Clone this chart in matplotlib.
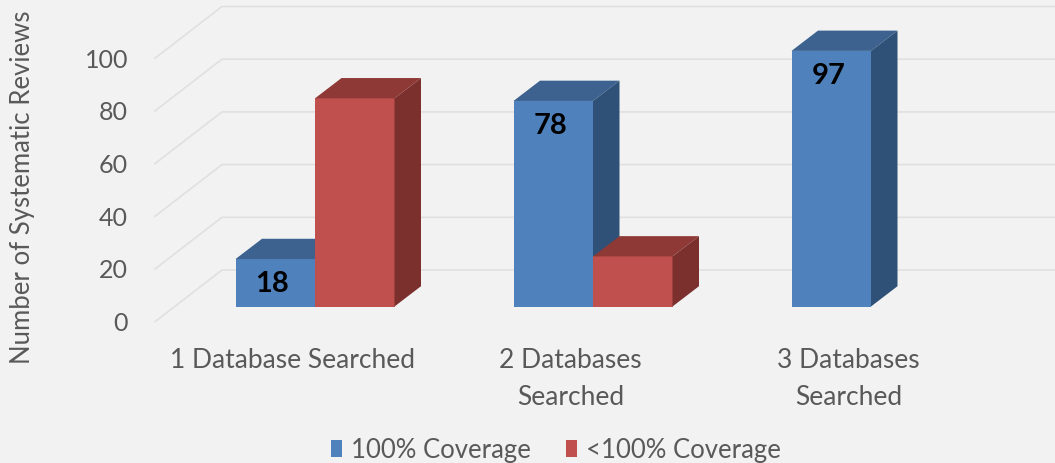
import matplotlib
matplotlib.use('Agg')
import matplotlib.pyplot as plt
from matplotlib.patches import Polygon

CATEGORIES = ['1 Database Searched', '2 Databases\nSearched', '3 Databases\nSearched']
FULL_COVERAGE = [18, 78, 97]
PARTIAL_COVERAGE = [79, 19, 0]
VALUE_TICKS = [0, 20, 40, 60, 80, 100]
SERIES_NAMES = ['100% Coverage', '<100% Coverage']

BG = '#f2f2f2'
GRID = '#e0e0e0'
TEXT = '#595959'
BLUE = ('#4f81bd', '#3e628f', '#2f5178')
RED = ('#c0504d', '#8f3937', '#7b302e')

# pixel scale of the picture
W, H = 1055, 464
PX_X = 278.0
PX_Y = 2.635
X0 = 315.0
Y0 = 307.5

BAR_W = 79.5 / PX_X
DEPTH_X = 26.5 / PX_X
DEPTH_Y = 20.3 / PX_Y
WALL_X = (155 - X0) / PX_X
WALL_BACK_X = (222 - X0) / PX_X
WALL_FRONT_Y = (Y0 - 322.7) / PX_Y
WALL_BACK_Y = (Y0 - 271) / PX_Y

plt.rcParams['font.family'] = ['Lato', 'DejaVu Sans']


def draw_series(ax, values, offset, colors, label):
    xs = [i + offset for i in range(len(values)) if values[i] > 0]
    vals = [v for v in values if v > 0]
    bars = ax.bar(xs, vals, BAR_W, align='edge', color=colors[0],
                  edgecolor='none', label=label, zorder=3)
    for x, v in zip(xs, vals):
        top = [(x, v), (x + BAR_W, v), (x + BAR_W + DEPTH_X, v + DEPTH_Y), (x + DEPTH_X, v + DEPTH_Y)]
        side = [(x + BAR_W, 0), (x + BAR_W + DEPTH_X, DEPTH_Y), (x + BAR_W + DEPTH_X, v + DEPTH_Y), (x + BAR_W, v)]
        ax.add_patch(Polygon(top, closed=True, facecolor=colors[1], edgecolor='none', zorder=3))
        ax.add_patch(Polygon(side, closed=True, facecolor=colors[2], edgecolor='none', zorder=3))
    return bars


def main():
    fig = plt.figure(figsize=(W / 100, H / 100), dpi=100, facecolor=BG)
    ax = fig.add_axes([0, 0, 1, 1])
    ax.set_xlim(-X0 / PX_X, (W - X0) / PX_X)
    ax.set_ylim((Y0 - H) / PX_Y, Y0 / PX_Y)
    ax.axis('off')

    for v in VALUE_TICKS:
        ax.plot([WALL_X, WALL_BACK_X, ax.get_xlim()[1]],
                [v + WALL_FRONT_Y, v + WALL_BACK_Y, v + WALL_BACK_Y],
                color=GRID, linewidth=1.2, zorder=1)
        ax.annotate(str(v), (WALL_X, v + WALL_FRONT_Y), xytext=(-27, -1),
                    textcoords='offset pixels', ha='right', va='center',
                    fontsize=18, color=TEXT)

    # blue first, the red fronts sit over the blue sides
    draw_series(ax, FULL_COVERAGE, -BAR_W, BLUE, SERIES_NAMES[0])
    draw_series(ax, PARTIAL_COVERAGE, 0, RED, SERIES_NAMES[1])

    for i, v in enumerate(FULL_COVERAGE):
        ax.annotate(str(v), (i - BAR_W / 2, v), xytext=(-3, -24),
                    textcoords='offset pixels', ha='center', va='center',
                    fontsize=21, fontweight='bold', color='black', zorder=5)

    for i, name in enumerate(CATEGORIES):
        ax.annotate(name, (i - 0.08, 0), xytext=(0, -41),
                    textcoords='offset pixels', ha='center', va='top',
                    fontsize=19, color=TEXT, linespacing=1.6)

    ax.text(23, H - 187, 'Number of Systematic Reviews', transform=None,
            rotation=90, ha='center', va='center', fontsize=18.5, color=TEXT)

    ax.legend(loc='lower center', bbox_to_anchor=(0.527, -0.048), ncol=2, frameon=False,
              fontsize=18.5, labelcolor=TEXT, handlelength=0.45, handleheight=0.65,
              handletextpad=0.35, columnspacing=1.35)

    fig.savefig('out.png', dpi=100, facecolor=BG)


if __name__ == '__main__':
    main()
